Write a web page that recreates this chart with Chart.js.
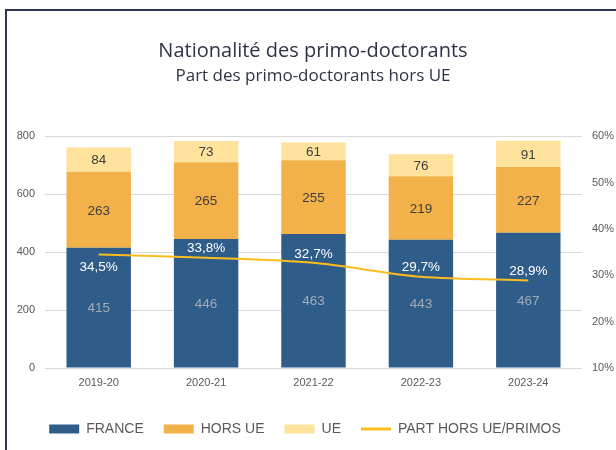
<!DOCTYPE html>
<html lang="fr">
<head>
<meta charset="utf-8">
<script src="https://cdn.jsdelivr.net/npm/chart.js@4/dist/chart.umd.min.js"></script>
<style>
  html, body { margin: 0; padding: 0; background: #ffffff; }
  #wrap { position: relative; width: 616px; height: 450px; overflow: hidden; }
  #frame { position: absolute; left: 5px; top: 9px; width: 700px; height: 600px;
           border-left: 2px solid #2B3452; border-top: 2px solid #2B3452; pointer-events: none; }
  canvas { position: absolute; left: 0; top: 0; }
</style>
</head>
<body>
<div id="wrap">
  <canvas id="c" width="616" height="450"></canvas>
  <div id="frame"></div>
</div>
<script>
const categories = ['2019-20', '2020-21', '2021-22', '2022-23', '2023-24'];
const franceValues = [415, 446, 463, 443, 467];
const horsUEValues = [263, 265, 255, 219, 227];
const ueValues = [84, 73, 61, 76, 91];
const partHorsUE = [34.5, 33.8, 32.7, 29.7, 28.9];
const leftTicks = [0, 200, 400, 600, 800];
const rightTicks = [10, 20, 30, 40, 50, 60];

const seriesNames = ['FRANCE', 'HORS UE', 'UE', 'PART HORS UE/PRIMOS'];
const colors = { france: '#2F5D8A', horsUE: '#F2B149', ue: '#FFE29B', line: '#FDBD1F' };

const labelFont = "'Liberation Sans', Arial, sans-serif";

const valueLabels = {
  id: 'valueLabels',
  afterDatasetsDraw(chart) {
    const ctx = chart.ctx;
    ctx.save();
    ctx.font = '13.5px ' + labelFont;
    ctx.textAlign = 'center';
    ctx.textBaseline = 'middle';
    const barColors = ['#A3AAB5', '#3F3F3F', '#3F3F3F'];
    [0, 1, 2].forEach(di => {
      const meta = chart.getDatasetMeta(di);
      const data = chart.data.datasets[di].data;
      meta.data.forEach((el, i) => {
        ctx.fillStyle = barColors[di];
        ctx.fillText(String(data[i]), el.x, (el.y + el.base) / 2 + 1);
      });
    });
    const lmeta = chart.getDatasetMeta(3);
    lmeta.data.forEach((pt, i) => {
      const txt = partHorsUE[i].toFixed(1).replace('.', ',') + '%';
      const dy = i === 0 ? 13 : -9;
      ctx.fillStyle = '#FFFFFF';
      ctx.fillText(txt, pt.x, pt.y + dy);
    });
    ctx.restore();
  }
};

// nudge the legend block slightly left, as in the reference
const legendShift = {
  id: 'legendShift',
  afterLayout(chart) {
    if (chart.legend) { chart.legend.left -= 8; chart.legend.right -= 8; }
  }
};

new Chart(document.getElementById('c'), {
  type: 'bar',
  data: {
    labels: categories,
    datasets: [
      { label: seriesNames[0], data: franceValues, backgroundColor: colors.france, borderWidth: 0, order: 1, yAxisID: 'y', pointStyle: 'rect' },
      { label: seriesNames[1], data: horsUEValues, backgroundColor: colors.horsUE, borderWidth: 0, order: 1, yAxisID: 'y', pointStyle: 'rect' },
      { label: seriesNames[2], data: ueValues, backgroundColor: colors.ue, borderWidth: 0, order: 1, yAxisID: 'y', pointStyle: 'rect' },
      { type: 'line', label: seriesNames[3], data: partHorsUE, borderColor: colors.line, backgroundColor: colors.line,
        borderWidth: 2, pointRadius: 0, tension: 0.3, order: 0, yAxisID: 'y1', pointStyle: 'line' }
    ]
  },
  options: {
    responsive: false,
    animation: false,
    layout: { padding: { left: 10, right: 0, top: 0, bottom: 4 } },
    datasets: { bar: { categoryPercentage: 0.6, barPercentage: 1 } },
    scales: {
      x: {
        stacked: true,
        grid: { display: false, drawTicks: false, tickLength: 0 },
        border: { display: false },
        ticks: { color: '#595959', font: { family: labelFont, size: 11 }, padding: 8 },
        afterFit: s => { s.height = 34; }
      },
      y: {
        stacked: true,
        position: 'left',
        min: leftTicks[0],
        max: leftTicks[leftTicks.length - 1],
        afterBuildTicks: s => { s.ticks = leftTicks.map(v => ({ value: v })); },
        grid: { color: '#D9D9D9', lineWidth: 1, drawTicks: false },
        border: { display: false },
        ticks: { color: '#595959', font: { family: labelFont, size: 11 }, padding: 10 },
        afterFit: s => { s.width = 35; }
      },
      y1: {
        position: 'right',
        min: rightTicks[0],
        max: rightTicks[rightTicks.length - 1],
        afterBuildTicks: s => { s.ticks = rightTicks.map(v => ({ value: v })); },
        grid: { display: false, drawOnChartArea: false, drawTicks: false, tickLength: 0 },
        border: { display: false },
        ticks: { color: '#595959', font: { family: labelFont, size: 11 }, padding: 10, callback: v => v + '%' },
        afterFit: s => { s.width = 34; }
      }
    },
    plugins: {
      tooltip: { enabled: false },
      title: {
        display: true,
        text: 'Nationalité des primo-doctorants',
        color: '#2D3446',
        font: { family: "'Open Sans', sans-serif", size: 20, weight: 'normal', lineHeight: 1.2 },
        padding: { top: 39, bottom: 0 }
      },
      subtitle: {
        display: true,
        text: 'Part des primo-doctorants hors UE',
        color: '#2D3446',
        font: { family: "'Open Sans', sans-serif", size: 17, weight: 'normal', lineHeight: 1.2 },
        padding: { top: 3, bottom: 50 }
      },
      legend: {
        position: 'bottom',
        align: 'center',
        labels: {
          usePointStyle: true,
          pointStyleWidth: 30,
          boxHeight: 9,
          padding: 20,
          color: '#595959',
          font: { family: labelFont, size: 14 },
          sort: (a, b) => a.datasetIndex - b.datasetIndex,
          generateLabels: chart => {
            const items = Chart.defaults.plugins.legend.labels.generateLabels(chart);
            items.forEach(it => {
              if (it.datasetIndex === 3) { it.lineWidth = 3; it.strokeStyle = colors.line; }
              else { it.lineWidth = 0; }
            });
            return items;
          }
        }
      }
    }
  },
  plugins: [valueLabels, legendShift]
});
</script>
</body>
</html>
